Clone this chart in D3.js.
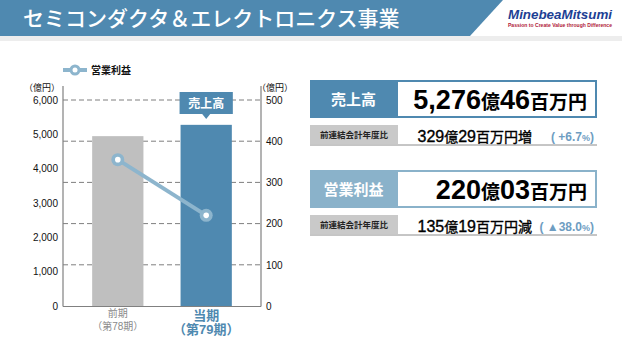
<!DOCTYPE html>
<html>
<head>
<meta charset="utf-8">
<script src="https://cdn.jsdelivr.net/npm/d3@7"></script>
<style>
  html, body { margin: 0; padding: 0; background: #fff; }
  svg { display: block; font-family: "Liberation Sans", "Noto Sans CJK JP", sans-serif; }
</style>
</head>
<body>
<svg id="chart" width="622" height="350"></svg>
<script>
// Segment figures (億円)
const categories = ["前期", "当期"];
const categorySub = ["（第78期）", "（第79期）"];
const sales = [4947.17, 5276.46];          // 売上高
const operatingIncome = [355.22, 220.03];   // 営業利益
const leftTicks = [0, 1000, 2000, 3000, 4000, 5000, 6000];
const rightTicks = [0, 100, 200, 300, 400, 500];

const svg = d3.select("#chart");
const blue = "#4f89b0";
const lightBlue = "#8db5cd";
const gray = "#bfbfbf";

// ---- header band ----
svg.append("rect").attr("x", 0).attr("y", 36).attr("width", 622).attr("height", 5)
  .attr("fill", "#ededed");
svg.append("path").attr("d", "M0,0 L503,0 L470,36 L0,36 Z").attr("fill", blue);
svg.append("text").attr("x", 23).attr("y", 26)
  .attr("font-family", "'Noto Sans CJK JP', sans-serif").attr("font-size", 21)
  .attr("font-weight", 500).attr("fill", "#fff")
  .text("セミコンダクタ＆エレクトロニクス事業");
svg.append("text").attr("x", 560).attr("y", 19).attr("text-anchor", "middle")
  .attr("font-family", "'Liberation Sans', Arial, sans-serif").attr("font-size", 13)
  .attr("font-weight", "bold").attr("font-style", "italic").attr("fill", "#1d3f94")
  .attr("textLength", 104).attr("lengthAdjust", "spacingAndGlyphs")
  .text("MinebeaMitsumi");
svg.append("text").attr("x", 560).attr("y", 26.5).attr("text-anchor", "middle")
  .attr("font-size", 4.6).attr("font-weight", "bold").attr("fill", "#b0203a")
  .attr("textLength", 104).attr("lengthAdjust", "spacingAndGlyphs")
  .text("Passion to Create Value through Difference");

// ---- chart ----
const x = d3.scaleBand().domain(categories).range([63, 261])
  .paddingInner(0.42).paddingOuter(0.33);
const yL = d3.scaleLinear().domain([0, 6000]).range([306, 100]);
const yR = d3.scaleLinear().domain([0, 500]).range([306, 100]);

// grid (right-axis ticks)
svg.append("g").selectAll("line").data(rightTicks.filter(d => d > 0)).join("line")
  .attr("x1", 63).attr("x2", 261)
  .attr("y1", d => yR(d)).attr("y2", d => yR(d))
  .attr("stroke", "#7f7f7f").attr("stroke-width", 1).attr("stroke-dasharray", "5,3");

// bars
svg.append("g").selectAll("rect").data(sales).join("rect")
  .attr("x", (d, i) => x(categories[i]))
  .attr("width", x.bandwidth())
  .attr("y", d => yL(d))
  .attr("height", d => yL(0) - yL(d))
  .attr("fill", (d, i) => i === 0 ? gray : blue);

// axes
const axisL = d3.axisLeft(yL).tickValues(leftTicks).tickSize(0).tickPadding(5)
  .tickFormat(d3.format(","));
const gL = svg.append("g").attr("transform", "translate(63,0)").call(axisL);
const axisR = d3.axisRight(yR).tickValues(rightTicks).tickSize(0).tickPadding(5);
const gR = svg.append("g").attr("transform", "translate(261,0)").call(axisR);
[gL, gR].forEach(g => {
  g.select(".domain").remove();
  g.selectAll("text").attr("font-size", 10).attr("fill", "#111")
    .attr("font-family", "'Liberation Sans', Arial, sans-serif");
});
svg.append("line").attr("x1", 63).attr("x2", 63).attr("y1", 86).attr("y2", 306.5)
  .attr("stroke", "#808080").attr("stroke-width", 1.2);
svg.append("line").attr("x1", 261).attr("x2", 261).attr("y1", 86).attr("y2", 306.5)
  .attr("stroke", "#808080").attr("stroke-width", 1.2);
svg.append("line").attr("x1", 63).attr("x2", 261).attr("y1", 306.5).attr("y2", 306.5)
  .attr("stroke", "#808080").attr("stroke-width", 1.2);
svg.append("text").attr("x", 60).attr("y", 91).attr("text-anchor", "end")
  .attr("font-size", 9).attr("fill", "#111").text("（億円）");
svg.append("text").attr("x", 257).attr("y", 91)
  .attr("font-size", 9).attr("fill", "#111").text("（億円）");

// category labels
categories.forEach((c, i) => {
  const cx = x(c) + x.bandwidth() / 2;
  const cur = i === 1;
  svg.append("text").attr("x", cx).attr("y", cur ? 320 : 317).attr("text-anchor", "middle")
    .attr("font-size", cur ? 13 : 10).attr("font-weight", cur ? "bold" : "normal")
    .attr("fill", cur ? blue : "#8a8a8a").text(c);
  svg.append("text").attr("x", cx).attr("y", cur ? 334 : 330).attr("text-anchor", "middle")
    .attr("font-size", cur ? 13 : 10).attr("font-weight", cur ? "bold" : "normal")
    .attr("fill", cur ? blue : "#8a8a8a").text(categorySub[i]);
});

// operating income line
const line = d3.line()
  .x((d, i) => x(categories[i]) + x.bandwidth() / 2)
  .y(d => yR(d));
svg.append("path").datum(operatingIncome).attr("d", line)
  .attr("fill", "none").attr("stroke", lightBlue).attr("stroke-width", 4);
const pts = svg.append("g").selectAll("g").data(operatingIncome).join("g")
  .attr("transform", (d, i) => `translate(${x(categories[i]) + x.bandwidth() / 2},${yR(d)})`);
pts.append("circle").attr("r", 6.5).attr("fill", lightBlue);
pts.append("circle").attr("r", 2.8).attr("fill", "#fff");

// callout over current bar
const bx = x(categories[1]), bw = x.bandwidth();
const cxm = bx + bw / 2;
svg.append("path")
  .attr("d", `M${bx - 1},92 H${bx + bw + 1} V114 H${cxm + 4} L${cxm},119 L${cxm - 4},114 H${bx - 1} Z`)
  .attr("fill", blue);
svg.append("text").attr("x", cxm).attr("y", 108).attr("text-anchor", "middle")
  .attr("font-family", "'Noto Sans CJK JP', sans-serif")
  .attr("font-size", 12).attr("font-weight", "bold").attr("fill", "#fff").text("売上高");

// legend
svg.append("line").attr("x1", 63).attr("x2", 87).attr("y1", 70).attr("y2", 70)
  .attr("stroke", lightBlue).attr("stroke-width", 4);
svg.append("circle").attr("cx", 75).attr("cy", 70).attr("r", 5.5).attr("fill", lightBlue);
svg.append("circle").attr("cx", 75).attr("cy", 70).attr("r", 2.5).attr("fill", "#fff");
svg.append("text").attr("x", 91).attr("y", 74)
  .attr("font-family", "'Noto Sans CJK JP', sans-serif")
  .attr("font-size", 10).attr("font-weight", "bold").attr("fill", "#111").text("営業利益");

// ---- summary panels ----
function panel(top, label, labelFill, parts, diffParts, pct) {
  svg.append("rect").attr("x", 310).attr("y", top).attr("width", 87).attr("height", 38)
    .attr("fill", labelFill);
  svg.append("rect").attr("x", 397).attr("y", top + 1).attr("width", 199).attr("height", 36)
    .attr("fill", "#fff").attr("stroke", labelFill).attr("stroke-width", 2);
  svg.append("text").attr("x", 353.5).attr("y", top + 24.5).attr("text-anchor", "middle")
    .attr("font-family", "'Noto Sans CJK JP', sans-serif")
    .attr("font-size", 15).attr("font-weight", "bold").attr("fill", "#fff").text(label);
  const t = svg.append("text").attr("x", 587).attr("y", top + 29).attr("text-anchor", "end")
    .attr("font-weight", "bold").attr("fill", "#000");
  parts.forEach(p => t.append("tspan").attr("font-size", p[1]).text(p[0]));

  const r = top + 45;
  svg.append("rect").attr("x", 310).attr("y", r).attr("width", 88).attr("height", 19)
    .attr("fill", "#c9c9c9");
  svg.append("line").attr("x1", 310).attr("x2", 597).attr("y1", r + 20).attr("y2", r + 20)
    .attr("stroke", "#8c8c8c").attr("stroke-width", 1);
  svg.append("text").attr("x", 354).attr("y", r + 13).attr("text-anchor", "middle")
    .attr("font-family", "'Noto Sans CJK JP', sans-serif")
    .attr("font-size", 8.5).attr("font-weight", "bold").attr("fill", "#222").text("前連結会計年度比");
  const d = svg.append("text").attr("x", 532).attr("y", r + 16.5).attr("text-anchor", "end")
    .attr("fill", "#000").attr("stroke", "#000").attr("stroke-width", 0.35);
  diffParts.forEach(p => d.append("tspan").attr("font-size", p[1]).text(p[0]));
  const pc = svg.append("text").attr("x", 594).attr("y", r + 15.5).attr("text-anchor", "end")
    .attr("font-weight", "bold").attr("fill", "#6e9dc2");
  pct.forEach(p => pc.append("tspan").attr("font-size", p[1]).text(p[0]));
}

panel(80, "売上高", blue,
  [["5,276", 27], ["億", 19], ["46", 27], ["百万円", 19]],
  [["329", 16], ["億", 14], ["29", 16], ["百万円増", 14]],
  [["( +6.7", 12], ["%", 9], [")", 12]]);
panel(170, "営業利益", "#8ab2ca",
  [["220", 27], ["億", 19], ["03", 27], ["百万円", 19]],
  [["135", 16], ["億", 14], ["19", 16], ["百万円減", 14]],
  [["( ▲38.0", 12], ["%", 9], [")", 12]]);
</script>
</body>
</html>
